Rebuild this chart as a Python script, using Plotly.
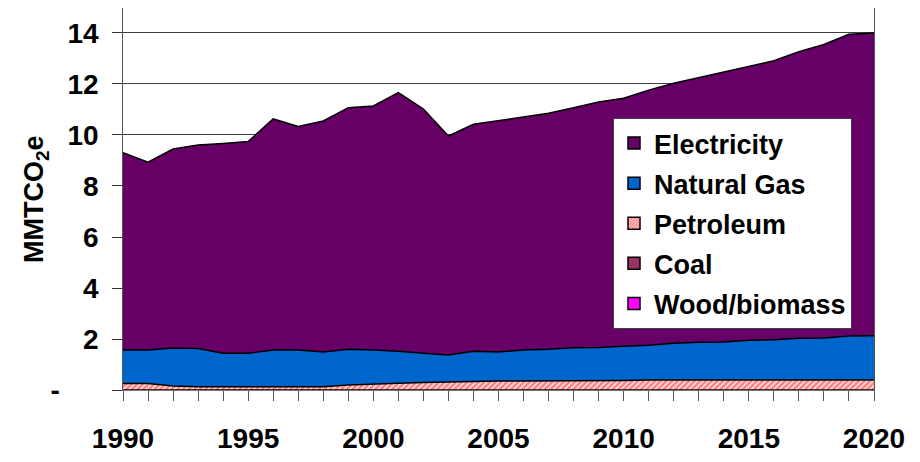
import plotly.graph_objects as go

years = list(range(1990, 2021))

wood_biomass = [0.0] * 31
coal = [0.0] * 31
petroleum = [0.25, 0.25, 0.16, 0.13, 0.13, 0.13, 0.13, 0.13, 0.13, 0.20, 0.22,
             0.26, 0.29, 0.31, 0.35, 0.35, 0.35, 0.35, 0.35, 0.35, 0.37,
             0.39, 0.39, 0.39, 0.39, 0.39, 0.39, 0.39, 0.39, 0.39, 0.39]
natural_gas = [1.32, 1.32, 1.49, 1.50, 1.31, 1.31, 1.44, 1.44, 1.36, 1.40, 1.35,
               1.26, 1.15, 1.06, 1.17, 1.14, 1.22, 1.25, 1.31, 1.32, 1.35,
               1.36, 1.44, 1.48, 1.49, 1.56, 1.58, 1.64, 1.65, 1.73, 1.74]
electricity = [7.74, 7.36, 7.80, 7.98, 8.23, 8.30, 9.06, 8.76, 9.06, 9.47, 9.57,
               10.14, 9.58, 8.59, 8.90, 9.07, 9.12, 9.25, 9.41, 9.62, 9.72,
               10.01, 10.20, 10.38, 10.59, 10.73, 10.94, 11.24, 11.51, 11.83, 11.87]

y_tickvals = [0, 2, 4, 6, 8, 10, 12, 14]
y_ticklabels = ["-", "2", "4", "6", "8", "10", "12", "14"]
x_tickvals = [1990, 1995, 2000, 2005, 2010, 2015, 2020]
x_ticklabels = ["1990", "1995", "2000", "2005", "2010", "2015", "2020"]

NB = "\u00a0"
y_ticktext = [t + NB * (6 if t == "-" else 1) for t in y_ticklabels]

FONT = "Arial, Liberation Sans, sans-serif"
fig = go.Figure()

PAT = dict(shape="/", fgcolor="#FF0000", bgcolor="#FFFFFF", size=4, solidity=0.7)
layers = [
    ("Wood/biomass", wood_biomass, "#FF00FF", None),
    ("Coal", coal, "#993366", None),
    ("Petroleum", petroleum, "#FFFFFF", PAT),
    ("Natural Gas", natural_gas, "#0066CC", None),
    ("Electricity", electricity, "#660066", None),
]
for name, vals, col, pat in layers:
    kw = dict(fillpattern=pat) if pat else {}
    fig.add_trace(go.Scatter(x=years, y=vals, name=name, stackgroup="one",
                             mode="lines", line=dict(color="#000000", width=1.5),
                             fillcolor=col, showlegend=False, hoverinfo="x+y", **kw))

# legend entries (square swatches)
for i, (name, vals, col, pat) in enumerate(reversed(layers)):
    mk = dict(color=col, line=dict(color="#000000", width=1.5))
    if pat:
        mk["pattern"] = dict(shape="/", fgcolor="#FF0000", bgcolor="#FFFFFF", size=3, solidity=0.7)
    fig.add_trace(go.Bar(x=[None], y=[None], name=name, marker=mk,
                         legendgroup=f"g{i}", showlegend=True))

# page has an 8px body margin
W, H = 912, 446
ml, mr, mt, mb = 115, 46, 0, 64
pw, ph = W - ml - mr, H - mt - mb

fig.update_layout(
    width=W, height=H,
    margin=dict(l=ml, r=mr, t=mt, b=mb),
    paper_bgcolor="#FFFFFF", plot_bgcolor="#FFFFFF",
    font=dict(family=FONT, color="#000000"),
    showlegend=True,
    legend=dict(x=(605 - ml) / pw, y=(ph - 110) / ph, xanchor="left", yanchor="top",
                bgcolor="#FFFFFF", bordercolor="#404040", borderwidth=1,
                font=dict(family=FONT, size=27, weight="bold"),
                tracegroupgap=2, traceorder="grouped"),
    xaxis=dict(range=[1990, 2020], tickmode="array", tickvals=x_tickvals, ticktext=x_ticklabels,
               ticks="outside", ticklen=10, tickcolor="#555555", tickwidth=1,
               minor=dict(tickmode="linear", tick0=1990, dtick=1, ticks="outside",
                          ticklen=10, tickcolor="#555555", tickwidth=1, showgrid=False),
               showgrid=False, zeroline=False,
               showline=True, linecolor="#777777", linewidth=1, mirror=True,
               tickfont=dict(family=FONT, size=28, weight="bold"),
               ticklabelstandoff=13),
    yaxis=dict(range=[0, 14.98], tickmode="array", tickvals=y_tickvals, ticktext=y_ticktext,
               ticks="outside", ticklen=10, tickcolor="#333333", tickwidth=1,
               showgrid=True, gridcolor="#404040", gridwidth=1, zeroline=False,
               showline=True, linecolor="#555555", linewidth=1, mirror=True,
               tickfont=dict(family=FONT, size=28, weight="bold")),
    annotations=[dict(text="MMTCO<sub>2</sub>e", textangle=-90, showarrow=False,
                      xref="paper", yref="paper", x=(28 - ml) / pw, y=(ph - 191) / ph,
                      xanchor="center", yanchor="middle",
                      font=dict(family=FONT, size=27, weight="bold"))],
)

fig.write_html("out.html")
